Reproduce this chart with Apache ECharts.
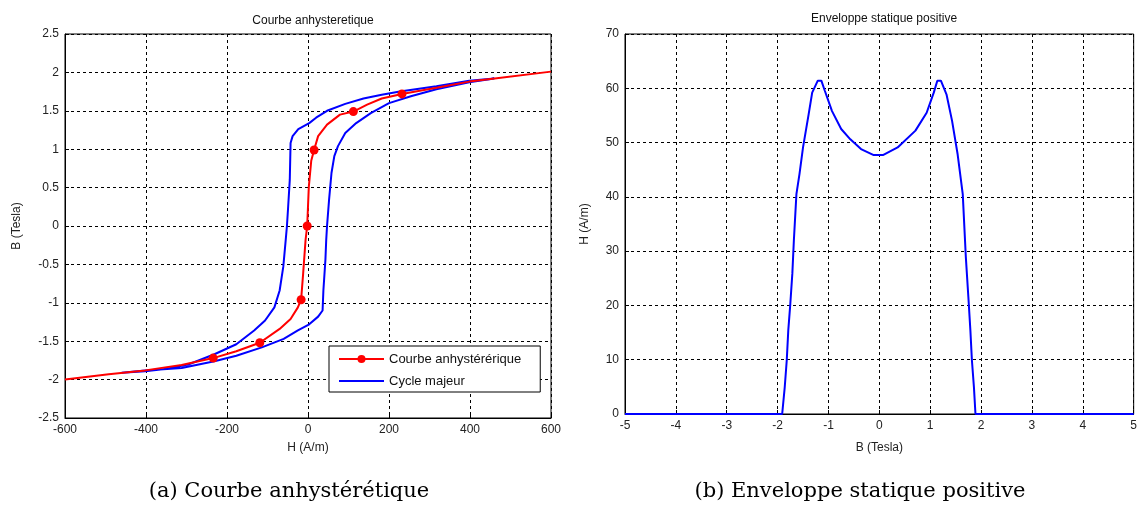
<!DOCTYPE html>
<html>
<head>
<meta charset="utf-8">
<script src="https://cdn.jsdelivr.net/npm/echarts@6/dist/echarts.min.js"></script>
<style>
html,body{margin:0;padding:0;background:#fff;}
#c{width:1140px;height:507px;}
</style>
</head>
<body>
<div id="c"></div>
<script>
// ---- Left chart: anhysteretic curve (red) ----
const anhystH = [-600,-492,-402,-312,-234,-177,-119,-70,-43,-25,-17,-12,-6,-2,2,8,15,25,47,79,112,146,182,232,317,398,461,600];
const anhystB = [-2.00,-1.93,-1.88,-1.81,-1.72,-1.63,-1.52,-1.34,-1.21,-1.06,-0.96,-0.62,-0.18,0.00,0.51,0.85,0.99,1.17,1.32,1.45,1.49,1.58,1.66,1.72,1.80,1.88,1.92,2.01];
const anhystMarked = [0,0,0,0,1,0,1,0,0,0,1,0,0,1,0,0,1,0,0,0,1,0,0,1,0,0,0,0];

// ---- Left chart: major cycle (blue) ----
const cycleH = [460,398,317,227,182,137,92,47,20,3,-24,-38,-43,-45,-49,-52,-55,-61,-70,-83,-106,-133,-177,-231,-294,-348,-402,-460,
  -402,-312,-231,-177,-114,-60,-25,3,25,36,38,43,45,47,52,58,65,74,92,119,155,200,254,317,398,460];
const cycleB = [1.92,1.89,1.82,1.75,1.71,1.66,1.59,1.50,1.41,1.34,1.26,1.17,1.08,0.60,0.25,0.00,-0.18,-0.53,-0.84,-1.06,-1.23,-1.36,-1.54,-1.67,-1.80,-1.86,-1.89,-1.91,
  -1.88,-1.85,-1.76,-1.69,-1.58,-1.47,-1.36,-1.28,-1.18,-1.10,-0.84,-0.44,-0.18,0.00,0.34,0.69,0.91,1.04,1.21,1.34,1.47,1.60,1.69,1.78,1.87,1.92];

// ---- Right chart: positive static envelope ----
const envB = [-5,-1.91,-1.86,-1.82,-1.79,-1.75,-1.71,-1.68,-1.63,-1.57,-1.50,-1.39,-1.32,-1.21,-1.14,-1.07,-0.93,-0.75,-0.57,-0.36,-0.11,0.07,0.36,0.71,0.93,1.07,1.14,1.21,1.32,1.43,1.54,1.64,1.70,1.75,1.79,1.82,1.86,1.89,5];
const envH = [0,0,4.9,9.9,15.4,20.3,25.9,32,40.5,44.2,49.1,55.2,59.2,61.4,61.4,59.5,55.8,52.5,50.6,48.8,47.7,47.7,49.1,52.2,55.5,59.2,61.4,61.4,58.9,54.0,47.8,40.5,29,21.6,15.4,9.9,4.9,0,0];

// ---- Texts ----
const leftTitle = 'Courbe anhysteretique';
const rightTitle = 'Enveloppe statique positive';
const leftXName = 'H (A/m)', leftYName = 'B (Tesla)';
const rightXName = 'B (Tesla)', rightYName = 'H (A/m)';
const seriesNames = ['Courbe anhystérérique', 'Cycle majeur'];
const captions = ['(a) Courbe anhystérétique', '(b) Enveloppe statique positive'];

const anhystData = anhystH.map((h, i) => anhystMarked[i]
  ? { value: [h, anhystB[i]] }
  : { value: [h, anhystB[i]], symbol: 'none' });
const cycleData = cycleH.map((h, i) => [h, cycleB[i]]);
const envData = envB.map((b, i) => [b, envH[i]]);

const FONT = 'Liberation Sans, Arial, sans-serif';
const labelStyle = { color: '#222', fontSize: 12, fontFamily: FONT };
const splitStyle = { show: true, lineStyle: { color: '#000', type: [3, 3], width: 1 } };
function axis(gi, min, max, interval, name, nameGap) {
  return {
    type: 'value', gridIndex: gi, min: min, max: max, interval: interval,
    name: name, nameLocation: 'middle', nameGap: nameGap,
    nameTextStyle: { color: '#222', fontSize: 12, fontFamily: FONT },
    axisLine: { show: true, onZero: false, lineStyle: { color: '#000', width: 1 } },
    axisTick: { show: true, inside: true, length: 4, lineStyle: { color: '#000' } },
    axisLabel: Object.assign({ margin: 6 }, labelStyle),
    splitLine: splitStyle
  };
}

const chart = echarts.init(document.getElementById('c'), null, { renderer: 'canvas' });
chart.setOption({
  backgroundColor: '#fff',
  animation: false,
  title: [
    { text: leftTitle, left: 308, top: 10, textAlign: 'center',
      textStyle: { fontSize: 12, fontWeight: 'normal', color: '#111', fontFamily: FONT } },
    { text: rightTitle, left: 879, top: 8, textAlign: 'center',
      textStyle: { fontSize: 12, fontWeight: 'normal', color: '#111', fontFamily: FONT } }
  ],
  grid: [
    { left: 65, top: 34, width: 486, height: 384, show: true, borderColor: '#000', borderWidth: 1, backgroundColor: '#fff' },
    { left: 625, top: 34, width: 509, height: 380, show: true, borderColor: '#000', borderWidth: 1, backgroundColor: '#fff' }
  ],
  xAxis: [
    axis(0, -600, 600, 200, leftXName, 24),
    axis(1, -5, 5, 1, rightXName, 28)
  ],
  yAxis: [
    axis(0, -2.5, 2.5, 0.5, leftYName, 42),
    axis(1, 0, 70, 10, rightYName, 34)
  ],
  legend: {
    data: [
      { name: seriesNames[0] },
      { name: seriesNames[1], itemStyle: { opacity: 0 } }
    ],
    orient: 'vertical',
    left: 329, top: 346,
    padding: [6, 19, 4, 9],
    itemWidth: 45, itemHeight: 10, itemGap: 8,
    backgroundColor: '#fff',
    borderColor: '#000', borderWidth: 1, borderRadius: 0,
    textStyle: { color: '#111', fontSize: 13, lineHeight: 14, fontFamily: FONT }
  },
  series: [
    { name: seriesNames[0], type: 'line', xAxisIndex: 0, yAxisIndex: 0,
      data: anhystData, symbol: 'circle', symbolSize: 9,
      lineStyle: { color: '#ff0000', width: 2 }, itemStyle: { color: '#ff0000' },
      z: 3 },
    { name: seriesNames[1], type: 'line', xAxisIndex: 0, yAxisIndex: 0,
      data: cycleData, symbol: 'none',
      lineStyle: { color: '#0000ff', width: 2 }, itemStyle: { color: '#0000ff' },
      z: 2 },
    { name: 'env', type: 'line', xAxisIndex: 1, yAxisIndex: 1,
      data: envData, symbol: 'none',
      lineStyle: { color: '#0000ff', width: 2 }, itemStyle: { color: '#0000ff' } }
  ],
  graphic: [
    { type: 'text', x: 289, y: 492,
      style: { text: captions[0], align: 'center', verticalAlign: 'middle',
        font: '21px "DejaVu Serif", serif', fill: '#000' } },
    { type: 'text', x: 860, y: 492,
      style: { text: captions[1], align: 'center', verticalAlign: 'middle',
        font: '21px "DejaVu Serif", serif', fill: '#000' } }
  ]
});
</script>
</body>
</html>
